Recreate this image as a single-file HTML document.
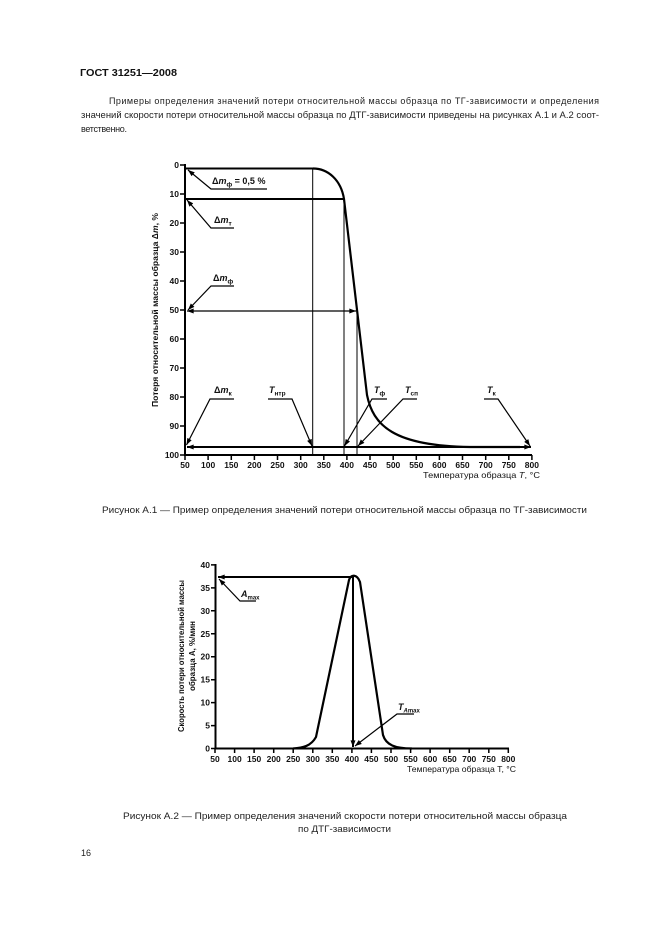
<!DOCTYPE html>
<html><head><meta charset="utf-8">
<style>
html,body{margin:0;padding:0;background:#fff;}
svg{display:block;}
</style></head>
<body>
<svg xmlns="http://www.w3.org/2000/svg" width="661" height="936" viewBox="0 0 661 936" font-family="'Liberation Sans', Arial, sans-serif">
<defs>
<marker id="a" viewBox="0 0 8 6" refX="8" refY="3" markerWidth="7" markerHeight="5" orient="auto-start-reverse" markerUnits="userSpaceOnUse"><path d="M0,0L8,3L0,6z" fill="#000"/></marker>
</defs>
<rect width="661" height="936" fill="#fff"/>

<!-- Header -->
<text x="80" y="76" font-size="10.5" font-weight="bold" fill="#111" textLength="97" lengthAdjust="spacingAndGlyphs">ГОСТ 31251—2008</text>

<g font-size="9" fill="#222">
<text x="109" y="104" textLength="490" lengthAdjust="spacing">Примеры определения значений потери относительной массы образца по ТГ-зависимости и определения</text>
<text x="81" y="118" textLength="518" lengthAdjust="spacingAndGlyphs">значений скорости потери относительной массы образца по ДТГ-зависимости приведены на рисунках А.1 и А.2 соот-</text>
<text x="81" y="132" textLength="46" lengthAdjust="spacing">ветственно.</text>
</g>

<!-- ============ Chart 1 ============ -->
<g stroke="#000" fill="none">
  <path d="M185,164 V456" stroke-width="2"/>
  <path d="M184,455 H532" stroke-width="2"/>
  <path d="M180,165H185M180,194H185M180,223H185M180,252H185M180,281H185M180,310H185M180,339H185M180,368H185M180,397H185M180,426H185M180,455H185" stroke-width="1.5"/>
  <path d="M185,455V460M208.1,455V460M231.3,455V460M254.4,455V460M277.5,455V460M300.7,455V460M323.8,455V460M346.9,455V460M370,455V460M393.2,455V460M416.3,455V460M439.4,455V460M462.5,455V460M485.7,455V460M508.8,455V460M531.9,455V460" stroke-width="1.5"/>

  <path d="M185,168.5 H313" stroke-width="2"/>
  <path d="M313,168.5 C328,168.5 341,180 344,199 L367,395 C373,425 393,446 470,447 L520,447" stroke-width="2.2"/>
  <path d="M185,199 H344" stroke-width="2"/>
  <path d="M312.7,169 V455 M344,199 V455 M357,311 V455" stroke-width="1"/>
  <path d="M187,311 H356" stroke-width="1.3" marker-start="url(#a)" marker-end="url(#a)"/>
  <path d="M187,447 H531" stroke-width="2" marker-start="url(#a)" marker-end="url(#a)"/>

  <path d="M267,189 H211 L188,170" stroke-width="1.2" marker-end="url(#a)"/>
  <path d="M234,228 H211 L187,200" stroke-width="1.2" marker-end="url(#a)"/>
  <path d="M234,286 H211 L188,310" stroke-width="1.2" marker-end="url(#a)"/>
  <path d="M234,399 H210 L186.5,445" stroke-width="1.2" marker-end="url(#a)"/>
  <path d="M268,399 H292 L312,446" stroke-width="1.2" marker-end="url(#a)"/>
  <path d="M387,399 H372 L344.5,446" stroke-width="1.2" marker-end="url(#a)"/>
  <path d="M417,399 H403 L358,446" stroke-width="1.2" marker-end="url(#a)"/>
  <path d="M484,399 H498 L530,446" stroke-width="1.2" marker-end="url(#a)"/>
</g>

<g font-size="8.5" font-weight="bold" fill="#111" text-anchor="end">
<text x="179" y="168">0</text>
<text x="179" y="197">10</text>
<text x="179" y="226">20</text>
<text x="179" y="255">30</text>
<text x="179" y="284">40</text>
<text x="179" y="313">50</text>
<text x="179" y="342">60</text>
<text x="179" y="371">70</text>
<text x="179" y="400">80</text>
<text x="179" y="429">90</text>
<text x="179" y="458">100</text>
</g>
<g font-size="8.5" font-weight="bold" fill="#111" text-anchor="middle">
<text x="185" y="468">50</text>
<text x="208.1" y="468">100</text>
<text x="231.3" y="468">150</text>
<text x="254.4" y="468">200</text>
<text x="277.5" y="468">250</text>
<text x="300.7" y="468">300</text>
<text x="323.8" y="468">350</text>
<text x="346.9" y="468">400</text>
<text x="370" y="468">450</text>
<text x="393.2" y="468">500</text>
<text x="416.3" y="468">550</text>
<text x="439.4" y="468">600</text>
<text x="462.5" y="468">650</text>
<text x="485.7" y="468">700</text>
<text x="508.8" y="468">750</text>
<text x="531.9" y="468">800</text>
</g>
<text x="540" y="478" text-anchor="end" font-size="8.5" fill="#111" textLength="117" lengthAdjust="spacingAndGlyphs">Температура образца <tspan font-style="italic">T</tspan>, °C</text>
<text transform="translate(158,310) rotate(-90)" text-anchor="middle" font-size="8.5" font-weight="bold" fill="#111" textLength="194" lengthAdjust="spacingAndGlyphs">Потеря относительной массы образца Δ<tspan font-style="italic">m</tspan>, %</text>

<g font-size="9" font-weight="bold" fill="#111">
<text x="212" y="184">Δ<tspan font-style="italic">m</tspan><tspan font-size="6.5" dy="2.5">ф</tspan><tspan dy="-2.5"> = 0,5 %</tspan></text>
<text x="214" y="223">Δ<tspan font-style="italic">m</tspan><tspan font-size="6.5" dy="2.5">т</tspan></text>
<text x="213" y="281">Δ<tspan font-style="italic">m</tspan><tspan font-size="6.5" dy="2.5">ф</tspan></text>
<text x="214" y="393">Δ<tspan font-style="italic">m</tspan><tspan font-size="6.5" dy="2.5">к</tspan></text>
<text x="269" y="393"><tspan font-style="italic">T</tspan><tspan font-size="6.5" dy="2.5">нтр</tspan></text>
<text x="374" y="393"><tspan font-style="italic">T</tspan><tspan font-size="6.5" dy="2.5">ф</tspan></text>
<text x="405" y="393"><tspan font-style="italic">T</tspan><tspan font-size="6.5" dy="2.5">сп</tspan></text>
<text x="487" y="393"><tspan font-style="italic">T</tspan><tspan font-size="6.5" dy="2.5">к</tspan></text>
</g>

<text x="102" y="513" font-size="9" fill="#222" textLength="485" lengthAdjust="spacingAndGlyphs">Рисунок А.1 — Пример определения значений потери относительной массы образца по ТГ-зависимости</text>

<!-- ============ Chart 2 ============ -->
<g stroke="#000" fill="none">
  <path d="M215.5,564 V749.5" stroke-width="2"/>
  <path d="M214.5,748.5 H509" stroke-width="2"/>
  <path d="M211,564.9H215.5M211,587.9H215.5M211,610.8H215.5M211,633.8H215.5M211,656.7H215.5M211,679.7H215.5M211,702.6H215.5M211,725.6H215.5M211,748.5H215.5" stroke-width="1.5"/>
  <path d="M215,748.5V753M234.6,748.5V753M254.1,748.5V753M273.7,748.5V753M293.2,748.5V753M312.8,748.5V753M332.3,748.5V753M351.9,748.5V753M371.4,748.5V753M391,748.5V753M410.6,748.5V753M430.1,748.5V753M449.7,748.5V753M469.2,748.5V753M488.8,748.5V753M508.3,748.5V753" stroke-width="1.5"/>
  <path d="M293,748.5 C303,748 311,746 316,737 L349,580 C351,574 357,574 360,582 L383,735 C386,745 395,748.5 412,748.5" stroke-width="2.2"/>
  <path d="M218,577 H354" stroke-width="2" marker-start="url(#a)"/>
  <path d="M353,577 V747" stroke-width="2" marker-end="url(#a)"/>
  <path d="M256,601 H240 L219,579" stroke-width="1.2" marker-end="url(#a)"/>
  <path d="M414,714 H397 L355,746" stroke-width="1.2" marker-end="url(#a)"/>
</g>
<g font-size="8.5" font-weight="bold" fill="#111" text-anchor="end">
<text x="210" y="567.9">40</text>
<text x="210" y="590.9">35</text>
<text x="210" y="613.8">30</text>
<text x="210" y="636.8">25</text>
<text x="210" y="659.7">20</text>
<text x="210" y="682.7">15</text>
<text x="210" y="705.6">10</text>
<text x="210" y="728.6">5</text>
<text x="210" y="751.5">0</text>
</g>
<g font-size="8.5" font-weight="bold" fill="#111" text-anchor="middle">
<text x="215" y="762">50</text>
<text x="234.6" y="762">100</text>
<text x="254.1" y="762">150</text>
<text x="273.7" y="762">200</text>
<text x="293.2" y="762">250</text>
<text x="312.8" y="762">300</text>
<text x="332.3" y="762">350</text>
<text x="351.9" y="762">400</text>
<text x="371.4" y="762">450</text>
<text x="391" y="762">500</text>
<text x="410.6" y="762">550</text>
<text x="430.1" y="762">600</text>
<text x="449.7" y="762">650</text>
<text x="469.2" y="762">700</text>
<text x="488.8" y="762">750</text>
<text x="508.3" y="762">800</text>
</g>
<text x="516" y="772" text-anchor="end" font-size="8.5" fill="#111" textLength="109" lengthAdjust="spacingAndGlyphs">Температура образца T, °C</text>
<text transform="translate(184,656) rotate(-90)" text-anchor="middle" font-size="8.5" font-weight="bold" fill="#111" textLength="152" lengthAdjust="spacingAndGlyphs">Скорость потери относительной массы</text>
<text transform="translate(195,656) rotate(-90)" text-anchor="middle" font-size="8.5" font-weight="bold" fill="#111" textLength="70" lengthAdjust="spacingAndGlyphs">образца А, %/мин</text>

<g font-size="9" font-weight="bold" fill="#111">
<text x="241" y="597"><tspan font-style="italic">A</tspan><tspan font-size="6" dy="2.5">max</tspan></text>
<text x="398" y="710"><tspan font-style="italic">T</tspan><tspan font-size="6" dy="2.5"><tspan font-style="italic">A</tspan>max</tspan></text>
</g>

<g font-size="9" fill="#222">
<text x="123" y="819" textLength="444" lengthAdjust="spacingAndGlyphs">Рисунок А.2 — Пример определения значений скорости потери относительной массы образца</text>
<text x="298" y="832" textLength="93" lengthAdjust="spacingAndGlyphs">по ДТГ-зависимости</text>
<text x="81" y="856">16</text>
</g>
</svg>
</body></html>
